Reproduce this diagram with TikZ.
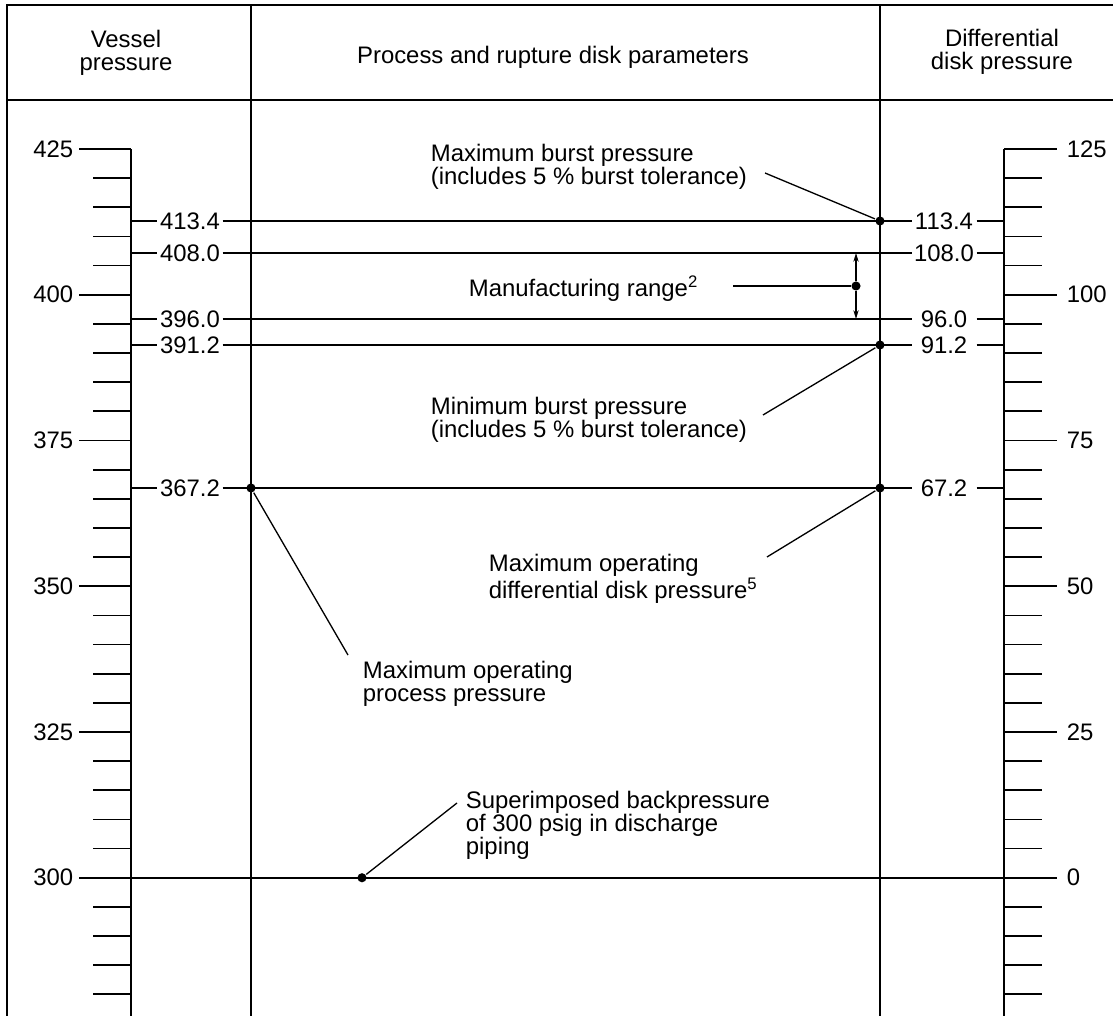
\documentclass[tikz,border=0pt]{standalone}
\usepackage{fontspec}
\setmainfont{Liberation Sans}
\usetikzlibrary{arrows.meta}

\tikzset{
  dot/.style={circle, fill, inner sep=0pt, minimum size=5.2pt},
  val/.style={inner sep=0pt, minimum width=36pt, minimum height=10pt},
  scl/.style={inner sep=0pt},
  note/.style={anchor=north west, inner sep=0pt, align=left},
  lead/.style={line width=0.75pt},
}

\begin{document}
\begin{tikzpicture}[x=0.02cm, y=-0.02cm, line width=1pt,
    font=\fontsize{13.6}{13.2}\selectfont]

  \path[use as bounding box, clip] (0,0) rectangle (1113,1016);

  % frame and headers
  \draw (7,1030) -- (7,5) -- (1140,5);
  \draw (7,100) -- (1140,100);
  \coordinate (cl1) at (251,5);
  \coordinate (cl2) at (880,5);
  \draw (cl1) -- (251,1030);
  \draw (cl2) -- (880,1030);

  \node[align=center] (hves) at (126,53) {Vessel\\pressure};
  \node[anchor=base, inner sep=0pt] (hproc) at (553,64) {Process and rupture disk parameters};
  \node[align=center] (hdif) at (1002,52) {Differential\\disk pressure};

  % the two scales
  \coordinate (ax1) at (131,149);
  \coordinate (ax2) at (1004,149);
  \draw (ax1) -- (131,1030);
  \draw (ax2) -- (1004,1030);

  \foreach \k in {1,...,29}{
    \draw (93,149+29.15*\k) -- (131,149+29.15*\k);
    \draw (1004,149+29.15*\k) -- (1042,149+29.15*\k);
  }
  \foreach \k/\l/\r in {0/425/125, 5/400/100, 10/375/75, 15/350/50, 20/325/25}{
    \node[scl, anchor=east] (sl\l) at (74,149+29.15*\k) {\l};
    \node[scl, anchor=west] (sr\r) at (1066,149+29.15*\k) {\r};
    \draw (79,149+29.15*\k) -- (131,149+29.15*\k);
    \draw (1004,149+29.15*\k) -- (1057,149+29.15*\k);
  }
  \node[scl, anchor=east] (sl300) at (74,877.75) {300};
  \node[scl, anchor=west] (sr0) at (1066,877.75) {0};
  \draw (79,877.75) -- (1057,877.75);

  % rupture disk values
  \foreach \n/\a/\b/\y in {1/413.4/113.4/221, 2/408.0/108.0/253, 3/396.0/96.0/319,
                           4/391.2/91.2/345, 5/367.2/67.2/488}{
    \node[val] (va\n) at (190,\y) {\a};
    \node[val] (vb\n) at (944,\y) {\b};
    \draw (ax1 |- va\n.west) -- (va\n.west) (va\n.east) -- (vb\n.west)
          (vb\n.east) -- (ax2 |- vb\n.east);
  }

  \node[dot] (dmax) at (cl2 |- va1) {};
  \node[dot] (dmin) at (cl2 |- va4) {};
  \node[dot] (dopd) at (cl2 |- va5) {};
  \node[dot] (dopp) at (cl1 |- va5) {};
  \node[dot] (dbp) at (362,877.75) {};
  \node[dot] (dmfg) at (856,286) {};

  % notes
  \node[note] (tmax) at (430,143) {Maximum burst pressure\\(includes 5 \% burst tolerance)};
  \node[anchor=base west, inner sep=0pt] (tmfg) at (468,297) {Manufacturing range\textsuperscript{2}};
  \node[note] (tmin) at (430,396) {Minimum burst pressure\\(includes 5 \% burst tolerance)};
  \node[note] (topd) at (488,553) {Maximum operating\\differential disk pressure\textsuperscript{5}};
  \node[note] (topp) at (362,660) {Maximum operating\\process pressure};
  \node[note] (tbp) at (465,790) {Superimposed backpressure\\of 300 psig in discharge\\piping};

  \coordinate (cmax) at (765,173);
  \coordinate (cmfg) at (733,286);
  \coordinate (cmin) at (763,415);
  \coordinate (copd) at (767,557);
  \coordinate (copp) at (348,655);
  \coordinate (cbp) at (457,803);

  \draw[lead] (cmax) -- (dmax);
  \draw[lead] (cmfg) -- (dmfg);
  \draw[lead] (cmin) -- (dmin);
  \draw[lead] (copd) -- (dopd);
  \draw[lead] (copp) -- (dopp);
  \draw[lead] (cbp) -- (dbp);
  \draw[lead, -{Stealth[length=5pt, width=3pt]}] (dmfg) -- (dmfg |- va2);
  \draw[lead, -{Stealth[length=5pt, width=3pt]}] (dmfg) -- (dmfg |- va3);

\end{tikzpicture}
\end{document}
